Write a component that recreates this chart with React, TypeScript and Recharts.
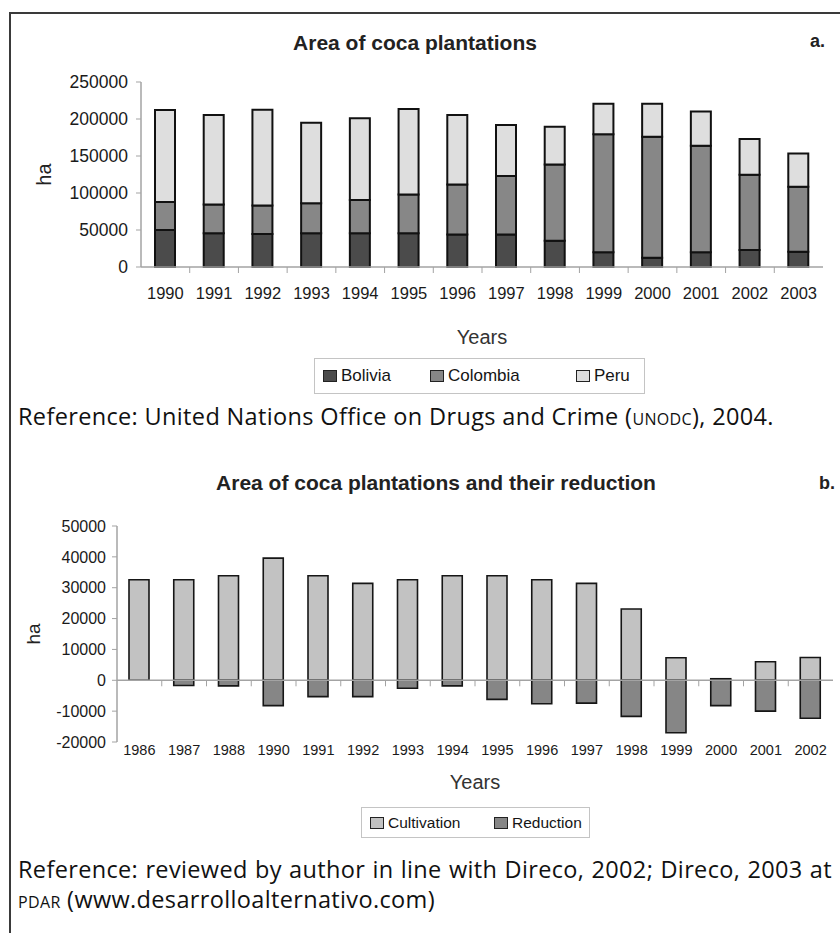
import React from 'react';
import { BarChart, Bar, XAxis, YAxis, Legend, ReferenceLine } from 'recharts';

// chart a: area of coca plantations (ha)
const yearsA = ['1990', '1991', '1992', '1993', '1994', '1995', '1996', '1997', '1998', '1999', '2000', '2001', '2002', '2003'];
const bolivia = [50000, 45500, 44500, 45500, 45500, 45500, 44000, 44000, 35500, 20000, 12500, 20000, 23000, 20500];
const colombia = [38000, 39000, 38500, 40500, 45000, 52500, 67500, 79000, 103000, 159500, 163500, 144000, 101500, 88000];
const peru = [124000, 121000, 129500, 109000, 110500, 115500, 94000, 69000, 51000, 41000, 44500, 46000, 48500, 45000];
const yTicksA = [0, 50000, 100000, 150000, 200000, 250000];

// chart b: cultivation and reduction (ha)
const yearsB = ['1986', '1987', '1988', '1990', '1991', '1992', '1993', '1994', '1995', '1996', '1997', '1998', '1999', '2000', '2001', '2002'];
const cultivation = [32600, 32600, 33900, 39600, 33900, 31400, 32600, 33900, 33900, 32600, 31400, 23100, 7300, 500, 6000, 7400];
const reduction = [0, -1700, -1800, -8200, -5300, -5300, -2600, -1800, -6200, -7600, -7400, -11700, -17000, -8200, -10000, -12300];
const yTicksB = [-20000, -10000, 0, 10000, 20000, 30000, 40000, 50000];

const dataA = yearsA.map((year, i) => ({ year, Bolivia: bolivia[i], Colombia: colombia[i], Peru: peru[i] }));
const dataB = yearsB.map((year, i) => ({ year, Cultivation: cultivation[i], Reduction: reduction[i] }));

const FONT = '"Liberation Sans", Arial, sans-serif';
const TEXT_FONT = '"Open Sans", sans-serif';
const AXIS = '#a3a3a3';

// axis line at zero, with small marks between the categories (Excel style)
const zeroAxis = (count: number, tick: number) => (props: any) => {
  const { x1, y1, x2, y2 } = props;
  const step = (x2 - x1) / count;
  return (
    <g>
      <line x1={x1} y1={y1} x2={x2} y2={y2} stroke={AXIS} strokeWidth={1.5} />
      {Array.from({ length: count - 1 }, (_, i) => (
        <line key={i} x1={x1 + step * (i + 1)} x2={x1 + step * (i + 1)} y1={y1} y2={y1 + tick} stroke={AXIS} strokeWidth={1} />
      ))}
    </g>
  );
};

const boxLegend = (widths: number[], fontSize: number, height: number) => ({ payload }: any) => (
  <div
    style={{
      boxSizing: 'border-box',
      height,
      border: '1.5px solid #c4c4c4',
      display: 'flex',
      alignItems: 'center',
      paddingLeft: 8,
      fontFamily: FONT,
      fontSize,
      color: '#151515',
      background: '#fff',
    }}
  >
    {(payload || []).map((entry: any, i: number) => (
      <div key={entry.value} style={{ display: 'flex', alignItems: 'center', width: widths[i] }}>
        <span
          style={{
            display: 'inline-block',
            width: 14,
            height: 12,
            background: entry.color,
            border: '1.5px solid #222',
            boxSizing: 'border-box',
            marginRight: 4,
          }}
        />
        <span>{entry.value}</span>
      </div>
    ))}
  </div>
);

const abs = (left: number, top: number, extra: React.CSSProperties = {}): React.CSSProperties => ({
  position: 'absolute',
  left,
  top,
  whiteSpace: 'nowrap',
  lineHeight: 1,
  ...extra,
});

const note: React.CSSProperties = { fontFamily: TEXT_FONT, fontSize: 23.5, letterSpacing: 0.35, color: '#111' };

const App = () => {
  return (
    <div style={{ position: 'absolute', left: 0, top: 0, width: 840, height: 933, overflow: 'hidden', background: '#fff', fontFamily: FONT }}>
      {/* frame */}
      <div style={{ position: 'absolute', left: 9, top: 12, width: 860, height: 960, borderTop: '2px solid #3a3a3a', borderLeft: '2px solid #3a3a3a' }} />

      {/* chart a */}
      <div style={abs(415, 42, { transform: 'translate(-50%, -50%)', fontSize: 21, fontWeight: 700, color: '#222' })}>Area of coca plantations</div>
      <div style={abs(810, 32, { fontSize: 18, fontWeight: 700, color: '#222' })}>a.</div>
      <div style={{ position: 'absolute', left: 0, top: 0 }}>
        <BarChart width={840} height={400} data={dataA} margin={{ top: 82, right: 17, left: 0, bottom: 6 }} barSize={20} style={{ fontFamily: FONT }}>
          <YAxis
            width={141}
            domain={[0, 250000]}
            ticks={yTicksA}
            interval={0}
            tickSize={5}
            tickMargin={8}
            axisLine={{ stroke: AXIS, strokeWidth: 1.5 }}
            tickLine={{ stroke: AXIS }}
            tick={{ fontSize: 17.5, fill: '#1a1a1a' }}
            label={{ value: 'ha', angle: -90, position: 'center', dx: -27, fontSize: 20, fill: '#222' }}
          />
          <XAxis
            dataKey="year"
            height={91}
            interval={0}
            tickSize={0}
            tickMargin={20}
            axisLine={false}
            tickLine={false}
            tick={{ fontSize: 16.5, fill: '#1a1a1a' }}
            label={{ value: 'Years', position: 'insideBottom', offset: 14, fontSize: 20, fill: '#333' }}
          />
          <Legend
            verticalAlign="bottom"
            wrapperStyle={{ left: 314, width: 331, height: 36, bottom: 6 }}
            content={boxLegend([110, 150, 70], 17, 36)}
          />
          <Bar dataKey="Bolivia" stackId="a" fill="#4b4b4b" stroke="#111" strokeWidth={2} isAnimationActive={false} />
          <Bar dataKey="Colombia" stackId="a" fill="#878787" stroke="#111" strokeWidth={2} isAnimationActive={false} />
          <Bar dataKey="Peru" stackId="a" fill="#dedede" stroke="#111" strokeWidth={2} isAnimationActive={false} />
          <ReferenceLine y={0} shape={zeroAxis(yearsA.length, 6)} />
        </BarChart>
      </div>
      <div style={abs(18, 405, note)}>
        Reference: United Nations Office on Drugs and Crime (<span style={{ fontSize: 16 }}>UNODC</span>), 2004.
      </div>

      {/* chart b */}
      <div style={abs(436, 482, { transform: 'translate(-50%, -50%)', fontSize: 21, fontWeight: 700, color: '#222' })}>Area of coca plantations and their reduction</div>
      <div style={abs(819, 474, { fontSize: 18, fontWeight: 700, color: '#222' })}>b.</div>
      <div style={{ position: 'absolute', left: 0, top: 446 }}>
        <BarChart width={840} height={394} data={dataB} stackOffset="sign" margin={{ top: 80, right: 7, left: 0, bottom: 2 }} barSize={20} style={{ fontFamily: FONT }}>
          <YAxis
            width={117}
            domain={[-20000, 50000]}
            ticks={yTicksB}
            interval={0}
            tickSize={5}
            tickMargin={6}
            axisLine={{ stroke: AXIS, strokeWidth: 1.5 }}
            tickLine={{ stroke: AXIS }}
            tick={{ fontSize: 16, fill: '#1a1a1a' }}
            label={{ value: 'ha', angle: -90, position: 'center', dx: -25, fontSize: 19, fill: '#222' }}
          />
          <XAxis
            dataKey="year"
            height={65}
            interval={0}
            tickSize={0}
            tickMargin={3}
            axisLine={false}
            tickLine={false}
            tick={{ fontSize: 14.5, fill: '#1a1a1a' }}
            label={{ value: 'Years', position: 'insideBottom', offset: 18, fontSize: 20, fill: '#333' }}
          />
          <Legend
            verticalAlign="bottom"
            wrapperStyle={{ left: 361, width: 229, height: 31, bottom: 2 }}
            content={boxLegend([124, 95], 15.5, 31)}
          />
          <Bar dataKey="Cultivation" stackId="b" fill="#c2c2c2" stroke="#161616" strokeWidth={1.6} isAnimationActive={false} />
          <Bar dataKey="Reduction" stackId="b" fill="#868686" stroke="#161616" strokeWidth={1.6} isAnimationActive={false} />
          <ReferenceLine y={0} shape={zeroAxis(yearsB.length, 6)} />
        </BarChart>
      </div>
      <div style={abs(18, 858, { ...note, width: 814, textAlign: 'justify', textAlignLast: 'justify' })}>
        Reference: reviewed by author in line with Direco, 2002; Direco, 2003 at
      </div>
      <div style={abs(18, 888, note)}>
        <span style={{ fontSize: 16 }}>PDAR</span> (www.desarrolloalternativo.com)
      </div>
    </div>
  );
};

export default App;
